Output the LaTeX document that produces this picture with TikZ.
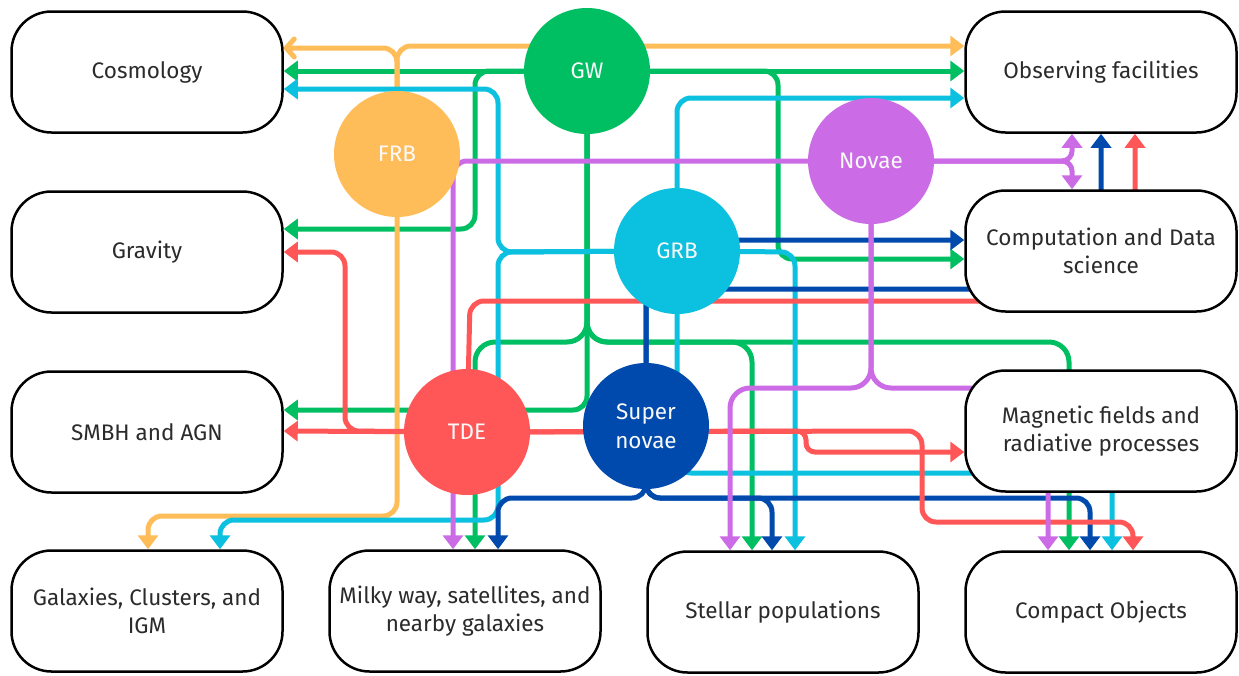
\documentclass[tikz,border=0pt]{standalone}
\usepackage{fontspec}
\setmainfont{Fira Sans}
\usetikzlibrary{arrows.meta}
\definecolor{cOr}{HTML}{FFBD59}
\definecolor{cGr}{HTML}{00BF63}
\definecolor{cCy}{HTML}{0CC0DF}
\definecolor{cPu}{HTML}{CB6CE6}
\definecolor{cDb}{HTML}{004AAD}
\definecolor{cRd}{HTML}{FF5757}
\definecolor{txt}{HTML}{2B2B2B}
\pgfdeclarelayer{bg}
\pgfsetlayers{bg,main}
\begin{document}
\begin{tikzpicture}[x=1pt,y=-1pt,
  topic/.style={draw=black, line width=2.5pt, fill=white, rounded corners=40pt,
    minimum width=271pt, minimum height=121pt, align=center, text=txt,
    font=\fontsize{22.5}{28}\selectfont, inner sep=0pt},
  src/.style={circle, minimum size=126pt, inner sep=0pt, text=white!95!gray,
    font=\fontsize{22.5}{29}\selectfont, align=center},
  link/.style={line width=5pt, rounded corners=14pt},
  tip/.style={-{Triangle[length=14pt,width=20pt]}},
  barb/.style={-{Straight Barb[length=8pt,width=18pt,round]}},
]
\useasboundingbox (0,0) rectangle (1239,675);
% topic boxes
\node[topic] (Cosmo)   at (147,72)   {Cosmology};
\node[topic] (Grav)    at (147,252)  {Gravity};
\node[topic] (SMBH)    at (147,432)  {SMBH and AGN};
\node[topic] (Gal)     at (147,611)  {Galaxies, Clusters, and\\IGM};
\node[topic] (Milky)   at (465,611)  {Milky way, satellites, and\\nearby galaxies};
\node[topic] (Stellar) at (783,612)  {Stellar populations};
\node[topic] (Compact) at (1101,612) {Compact Objects};
\node[topic] (Obs)     at (1101,72)  {Observing facilities};
\node[topic] (Comp)    at (1101,251) {Computation and Data\\science};
\node[topic] (Mag)     at (1101,431) {Magnetic fields and\\radiative processes};
% source circles
\node[src, fill=cOr] (FRB)   at (397,154) {FRB};
\node[src, fill=cGr] (GW)    at (587,71)  {GW};
\node[src, fill=cCy] (GRB)   at (677,251) {GRB};
\node[src, fill=cPu] (Novae) at (871,161) {Novae};
\node[src, fill=cRd] (TDE)   at (467,432) {TDE};
\node[src, fill=cDb] (SN)    at (646,426) {Super\\novae};

\begin{pgfonlayer}{bg}
\fill[white] (0,0) rectangle (1239,675);
% GW (green)
\begin{scope}[draw=cGr]
\draw[link,tip] (GW.center) -- (Cosmo.east |- 0,71);
\draw[link,tip] (GW.center) -- (Obs.west |- 0,71);
\draw[link,tip] (GW.center) -- (475,71) -- (475,229) -- (Grav.east |- 0,229);
\draw[link,tip] (GW.center) -- (778,71) -- (778,259) -- (Comp.west |- 0,259);
\draw[link,tip] (GW.center) -- (587,410) -- (SMBH.east |- 0,410);
\draw[link,tip,rounded corners=20pt] (GW.center) -- (587,342) -- (475,342) -- (475,0 |- Milky.north);
\draw[link,tip,rounded corners=20pt] (GW.center) -- (587,342) -- (752,342) -- (752,0 |- Stellar.north);
\draw[link,tip,rounded corners=20pt] (GW.center) -- (587,342) -- (1069,342) -- (1069,0 |- Compact.north);
\end{scope}
% FRB (orange)
\begin{scope}[draw=cOr]
\draw[link,barb] (FRB.center) -- (397,48) -- (Cosmo.east |- 0,48);
\draw[link,tip] (FRB.center) -- (397,46) -- (Obs.west |- 0,46);
\draw[link,tip] (FRB.center) -- (397,516) -- (148,516) -- (148,0 |- Gal.north);
\end{scope}
% GRB (cyan)
\begin{scope}[draw=cCy]
\draw[link,tip] (GRB.center) -- (498,252) -- (498,89) -- (Cosmo.east |- 0,89);
\draw[link,tip] (GRB.center) -- (498,252) -- (498,520) -- (220,520) -- (220,0 |- Gal.north);
\draw[link,tip] (GRB.center) -- (677,98) -- (Obs.west |- 0,98);
\draw[link,tip] (GRB.center) -- (795,252) -- (795,0 |- Stellar.north);
\draw[link,tip] (GRB.center) -- (677,473) -- (1112,473) -- (1112,0 |- Compact.north);
\end{scope}
% Supernovae (dark blue)
\begin{scope}[draw=cDb]
\draw[link,tip] (SN.center) -- (646,240) -- (Comp.west |- 0,240);
\draw[link,tip] (SN.center) -- (646,289) -- (1101,289) -- (Obs.south);
\draw[link,tip] (SN.center) -- (646,498) -- (498,498) -- (498,0 |- Milky.north);
\draw[link,tip] (SN.center) -- (646,498) -- (772,498) -- (772,0 |- Stellar.north);
\draw[link,tip] (SN.center) -- (646,498) -- (1090,498) -- (1090,0 |- Compact.north);
\end{scope}
% TDE (red)
\begin{scope}[draw=cRd]
\draw[link,tip] (TDE.center) -- (SMBH.east |- 0,431);
\draw[link,tip] (TDE.center) -- (345,431) -- (345,252) -- (Grav.east |- 0,252);
\draw[link,tip] (TDE.center) -- (470,301) -- (1135,301) -- (1135,0 |- Obs.south);
\draw[link,tip,rounded corners=9pt] (TDE.center) -- (806,431) -- (806,452) -- (Mag.west |- 0,452);
\draw[link,tip] (TDE.center) -- (922,431) -- (922,522) -- (1133,522) -- (1133,0 |- Compact.north);
\end{scope}
% Novae (purple)
\begin{scope}[draw=cPu]
\draw[link,tip] (Novae.center) -- (453,161) -- (453,0 |- Milky.north);
\draw[link,tip,rounded corners=10pt] (Novae.center) -- (1072,161) -- (1072,0 |- Obs.south);
\draw[link,tip,rounded corners=10pt] (Novae.center) -- (1072,161) -- (1072,0 |- Comp.north);
\draw[link,tip,rounded corners=20pt] (Novae.center) -- (871,388) -- (730,388) -- (730,0 |- Stellar.north);
\draw[link,tip,rounded corners=20pt] (Novae.center) -- (871,388) -- (1048,388) -- (1048,0 |- Compact.north);
\end{scope}
\end{pgfonlayer}
\end{tikzpicture}
\end{document}
